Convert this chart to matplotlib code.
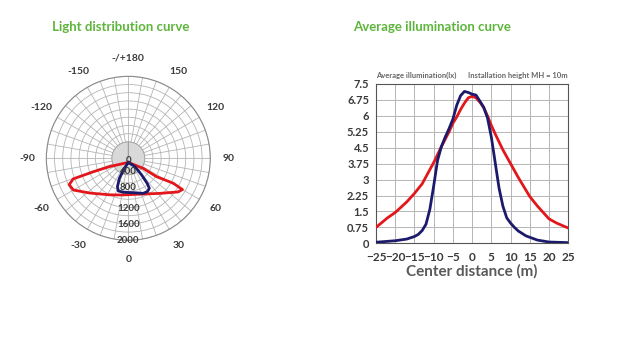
import numpy as np
import matplotlib
matplotlib.use("Agg")
import matplotlib.pyplot as plt

# ---------------- data ----------------
# polar light distribution (angle in degrees from nadir, +right; intensity in cd)
red_ang = [0, -66, -69, -69.5, -66, -60, -48, -27, -10, 13, 42, 56, 60, 61, 57, 56, 0]
red_cd = [100, 490, 914, 1436, 1579, 1548, 1266, 1000, 909, 901, 1151, 1466, 1526, 1255, 823, 440, 100]
blue_ang = [0, -23, -24, -21, -17, -8, 8, 23, 30, 35, 37, 38.7, 38.7, 0]
blue_cd = [100, 310, 535, 741, 833, 838, 846, 929, 936, 893, 766, 520, 260, 100]
ring_labels = ["0", "400", "800", "1200", "1600", "2000"]
ring_values = [0, 400, 800, 1200, 1600, 2000]
angle_ticks = [0, 30, 60, 90, 120, 150, 180, 210, 240, 270, 300, 330]
angle_labels = ["0", "30", "60", "90", "120", "150", "-/+180", "-150", "-120", "-90", "-60", "-30"]

# average illumination curve
blue_x = [-25, -20, -17, -15, -14, -13, -12, -11, -10, -9, -8, -7, -6, -5, -4, -3, -2, -1, 0, 1, 2, 3, 4, 5, 6, 7, 8, 9, 10, 11, 12, 14, 17, 20, 25]
blue_y = [0.05, 0.12, 0.2, 0.32, 0.42, 0.6, 0.9, 1.6, 2.7, 3.9, 4.55, 5.0, 5.4, 5.85, 6.5, 6.95, 7.15, 7.1, 7.02, 6.98, 6.7, 6.4, 5.9, 5.0, 3.8, 2.6, 1.75, 1.2, 0.95, 0.75, 0.58, 0.35, 0.15, 0.06, 0.03]
red_x = [-25, -22, -20, -17, -15, -13, -10, -8, -7, -6, -5, -4, -3, -2, -1, 0, 1, 2, 3, 4, 5, 6, 8, 10, 12, 15, 17, 20, 22, 25]
red_y = [0.75, 1.2, 1.45, 1.95, 2.35, 2.8, 3.8, 4.55, 4.9, 5.25, 5.65, 5.95, 6.3, 6.6, 6.85, 6.92, 6.85, 6.65, 6.4, 6.0, 5.55, 5.15, 4.4, 3.75, 3.1, 2.2, 1.75, 1.15, 0.95, 0.72]
x_ticks = [-25, -20, -15, -10, -5, 0, 5, 10, 15, 20, 25]
y_ticks = [0, 0.75, 1.5, 2.25, 3, 3.75, 4.5, 5.25, 6, 6.75, 7.5]

# ---------------- style ----------------
plt.rcParams['font.family'] = ['Lato', 'DejaVu Sans']
GREEN = '#5db53c'
GRID = '#b5b5b5'
TXT = '#3a3a3a'
NAVY = '#1c1a6b'
RED = '#e3171b'

fig = plt.figure(figsize=(6.2, 3.58), dpi=100)
fig.patch.set_facecolor('white')

# ---------------- polar ----------------
ax = fig.add_axes([0.0747, 0.3288, 0.2645, 0.458], projection='polar')
ax.set_theta_zero_location('S')
ax.set_theta_direction(1)
ax.set_ylim(0, 2000)
ax.set_yticks(np.arange(200, 2001, 200))
ax.set_yticklabels([])
ax.set_xticks(np.deg2rad(np.arange(0, 360, 10)))
lab = {a: l for a, l in zip(angle_ticks, angle_labels)}
ax.set_xticklabels([lab.get(a, '') for a in range(0, 360, 10)])
ax.tick_params(axis='x', pad=3, labelsize=7.5, labelcolor=TXT)
for t in ax.get_xticklabels():
    t.set_fontweight('bold')
ax.grid(True, color=GRID, lw=0.6)
ax.spines['polar'].set_color('#8a8a8a')
ax.spines['polar'].set_linewidth(0.8)
# gray central disc
ax.bar(0, 400, width=2 * np.pi, bottom=0, color='#d9d9d9', edgecolor='#a0a0a0', lw=0.6, zorder=3)
ax.plot(np.deg2rad(red_ang), red_cd, color=RED, lw=2, zorder=5)
ax.plot(np.deg2rad(blue_ang), blue_cd, color=NAVY, lw=2, zorder=6)
offs = [60, 330, 700, 1220, 1610, 2000]
for v, l, o in zip(ring_values, ring_labels, offs):
    ax.text(0, o, l, ha='center', va='center', fontsize=7, fontweight='bold', color=TXT, zorder=7)

fig.text(0.0835, 0.925, "Light distribution curve", color=GREEN, fontsize=9.5, fontweight='bold', ha='left', va='center')
fig.text(0.569, 0.925, "Average illumination curve", color=GREEN, fontsize=9.5, fontweight='bold', ha='left', va='center')

# ---------------- cartesian ----------------
ax2 = fig.add_axes([0.6065, 0.3204, 0.310, 0.445])
ax2.plot(blue_x, blue_y, color=NAVY, lw=2, zorder=4, solid_joinstyle='round')
ax2.plot(red_x, red_y, color=RED, lw=2, zorder=3, solid_joinstyle='round')
ax2.set_xlim(-25, 25)
ax2.set_ylim(0, 7.5)
ax2.set_xticks(x_ticks)
ax2.set_yticks(y_ticks)
ax2.set_yticklabels(['%g' % v for v in y_ticks])
ax2.grid(True, color=GRID, lw=0.7)
ax2.tick_params(axis='y', length=0, labelsize=8, labelcolor=TXT, pad=5)
ax2.tick_params(axis='x', length=0, labelsize=8.5, labelcolor=TXT, pad=6)
for t in ax2.get_xticklabels() + ax2.get_yticklabels():
    t.set_fontweight('bold')
for s in ax2.spines.values():
    s.set_color('#555555')
    s.set_linewidth(0.8)
ax2.set_xlabel("Center distance (m)", fontsize=11, fontweight='bold', color='#5a5a5a', labelpad=1)
fig.text(0.607, 0.79, "Average illumination(lx)", fontsize=5.5, fontweight='bold', color='#666666', ha='left', va='center')
fig.text(0.755, 0.79, "Installation height MH = 10m", fontsize=5.5, fontweight='bold', color='#666666', ha='left', va='center')

fig.savefig('out.png', dpi=100, facecolor='white')
